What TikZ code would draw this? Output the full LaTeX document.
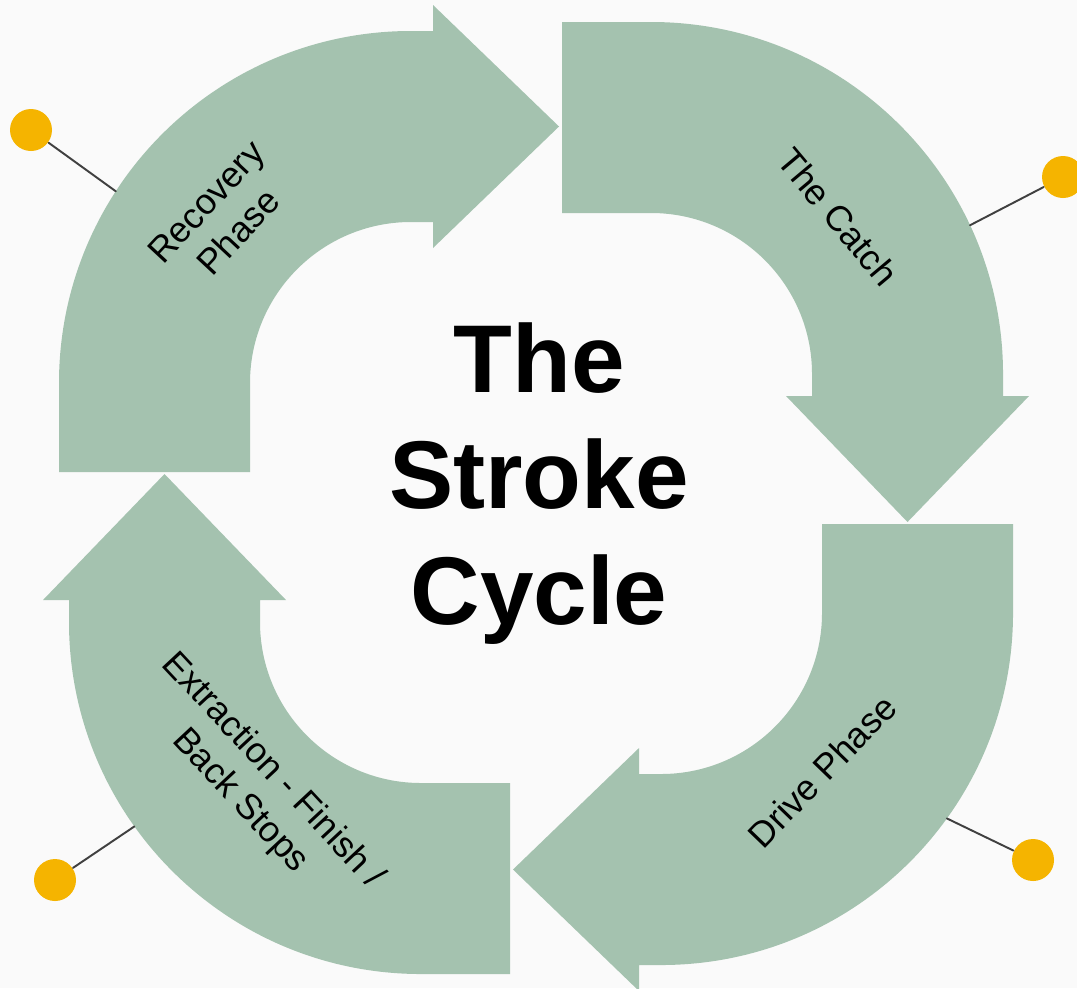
\documentclass[tikz,border=0pt]{standalone}
\usepackage{fontspec}
\setmainfont{Liberation Sans}
\usetikzlibrary{arrows.meta, calc}
\definecolor{paper}{HTML}{FAFAFA}
\definecolor{bandgreen}{HTML}{A4C2AF}
\definecolor{pinyellow}{HTML}{F5B400}
\definecolor{pingray}{HTML}{404040}
% one quarter of the cycle, drawn about its own centre
\newcommand{\phasearrow}{%
	(-352,-89) -- (-352,0) arc[start angle=180, end angle=90, radius=352]
	-- (22,352) -- (22,378) -- (148,256.5) -- (22,135) -- (22,161) -- (0,161)
	arc[start angle=90, end angle=180, radius=161] -- (-161,-89) -- cycle}

\begin{document}
\begin{tikzpicture}[x=0.1mm, y=0.1mm, line cap=round, line join=round,
	bandfill/.style={fill=bandgreen},
	phaselabel/.style={font=\fontsize{10.2}{12.6}\selectfont, align=center, inner sep=0pt},
	pindot/.style={circle, fill=pinyellow, minimum size=4.2mm, inner sep=0pt},
	pinline/.style={pingray, line width=0.55pt}]
\useasboundingbox (0,0) rectangle (1077,988);
\fill[paper] (0,0) rectangle (1077,988);
% centres of the four quarters
\coordinate (c1) at (411,605);
\coordinate (c2) at (651,614);
\coordinate (c3) at (661,375);
\coordinate (c4) at (421,366);
%========================
% the four arrows
%========================
\begin{scope}[shift={(c1)}]
	\fill[bandfill] \phasearrow;
\end{scope}
\begin{scope}[shift={(c2)}, rotate=-90]
	\fill[bandfill] \phasearrow;
\end{scope}
\begin{scope}[shift={(c3)}, rotate=-180]
	\fill[bandfill] \phasearrow;
\end{scope}
\begin{scope}[shift={(c4)}, rotate=90]
	\fill[bandfill] \phasearrow;
\end{scope}
% labels
\node[phaselabel, rotate=47] (recovery) at (222,771) {Recovery\\Phase};
\node[phaselabel, rotate=-50] (catch) at (838,771) {The Catch};
\node[phaselabel, rotate=46] (drive) at (822,217) {Drive Phase};
\node[phaselabel, rotate=-47] (extraction) at (256,202) {Extraction - Finish /\\Back Stops};
% title
\node[font=\bfseries\fontsize{27.4}{33}\selectfont, align=center] (title) at (539,504) {The\\Stroke\\Cycle};
%========================
% pins
%========================
\coordinate (t1) at ($(c1)+(147:352)$);
\coordinate (t2) at ($(c2)+(25:352)$);
\coordinate (t3) at ($(c3)+(-35.7:352)$);
\coordinate (t4) at ($(c4)+(215.5:352)$);
\node[pindot] (dot1) at (31,858) {};
\node[pindot] (dot2) at (1063,811) {};
\node[pindot] (dot3) at (1033,128) {};
\node[pindot] (dot4) at (55,108) {};
\draw[pinline] (dot1) -- (t1);
\draw[pinline] (dot2) -- (t2);
\draw[pinline] (dot3) -- (t3);
\draw[pinline] (dot4) -- (t4);
\end{tikzpicture}
\end{document}
